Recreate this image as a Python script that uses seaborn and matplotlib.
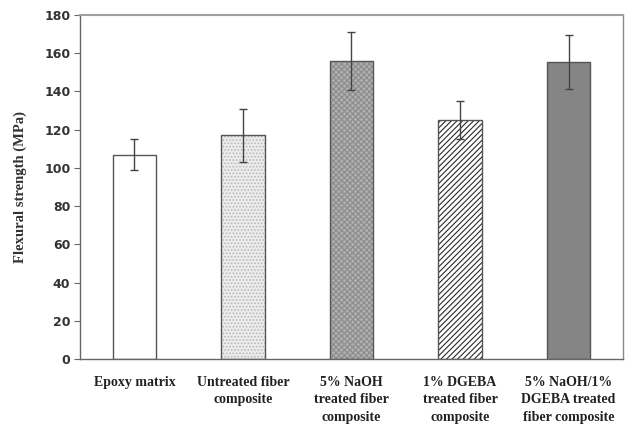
import matplotlib
matplotlib.use("Agg")
import matplotlib.pyplot as plt
import seaborn as sns
import pandas as pd

categories = [
    "Epoxy matrix",
    "Untreated fiber\ncomposite",
    "5% NaOH\ntreated fiber\ncomposite",
    "1% DGEBA\ntreated fiber\ncomposite",
    "5% NaOH/1%\nDGEBA treated\nfiber composite",
]
strength = [107, 117, 156, 125, 155.5]
strength_err = [8, 14, 15, 10, 14]

fill_colors = ["#ffffff", "#ececec", "#b0b0b0", "#ffffff", "#858585"]
hatches = [None, ".....", "xxxxxx", "//////", None]
hatch_colors = [None, "#b8b8b8", "#8c8c8c", "#2a2a2a", None]

sns.set_theme(style="white")
plt.rcParams["hatch.linewidth"] = 0.8

df = pd.DataFrame({"category": categories, "strength": strength})

fig = plt.figure(figsize=(6.26, 4.29), dpi=100)
ax = fig.add_axes([0.128, 0.163, 0.867, 0.802])

sns.barplot(data=df, x="category", y="strength", order=categories,
            palette=fill_colors, hue="category", legend=False,
            width=0.4, edgecolor="#555555", linewidth=1.0, ax=ax, errorbar=None)

for patch, h, hc in zip(ax.patches, hatches, hatch_colors):
    if h:
        patch.set_hatch(h)
        patch._hatch_color = matplotlib.colors.to_rgba(hc)

ax.errorbar(range(len(categories)), strength, yerr=strength_err, fmt="none",
            ecolor="#444444", elinewidth=1.0, capsize=3, capthick=1.0)

ax.set_xlim(-0.5, 4.5)
ax.set_ylim(0, 180)
ax.set_yticks(range(0, 181, 20))
ax.set_xlabel("")
ax.set_ylabel("Flexural strength (MPa)", family="Liberation Serif",
              fontweight="bold", fontsize=10.5, color="#333333", labelpad=12)

for lbl in ax.get_yticklabels():
    lbl.set_fontsize(9)
    lbl.set_fontweight("bold")
    lbl.set_color("#333333")
ax.set_xticks(range(len(categories)))
ax.set_xticklabels(categories, family="Liberation Serif", fontweight="bold",
                   fontsize=10, color="#222222", linespacing=1.45)

ax.tick_params(axis="y", which="major", length=4, width=0.8, color="#666666",
               direction="out", left=True, pad=3)
ax.tick_params(axis="x", length=0, pad=12)

for side, sp in ax.spines.items():
    sp.set_visible(True)
    sp.set_color("#8a8a8a")
    sp.set_linewidth(1.0)
ax.spines["top"].set_linewidth(1.5)
ax.spines["top"].set_color("#a0a0a0")
ax.spines["left"].set_color("#666666")
ax.spines["bottom"].set_color("#666666")

fig.savefig("out.png", dpi=100)
